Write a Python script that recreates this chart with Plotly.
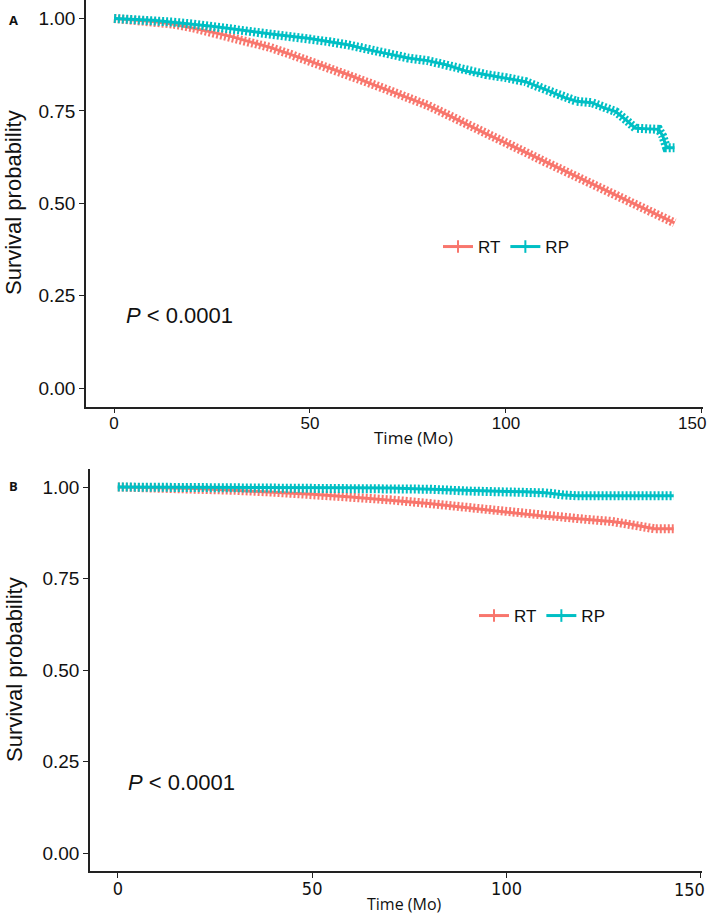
"""Kaplan-Meier style survival curves, RT vs RP, two stacked panels."""

import plotly.graph_objects as go

RT_COLOR = "#F8766D"
RP_COLOR = "#00BFC4"
AXIS_COLOR = "#222222"
TICK_FONT = "Liberation Sans, Arial, sans-serif"
TITLE_FONT = "Open Sans, Noto Sans, sans-serif"
NARROW_FONT = "Liberation Sans Narrow, DejaVu Sans Condensed, sans-serif"

# Panel A
A_RT_MONTHS = [0, 5, 10, 15, 20, 25, 30, 35, 40, 45, 50, 55, 60, 65, 70, 75,
               80, 85, 90, 95, 100, 105, 110, 115, 120, 125, 130, 135, 140, 143]
A_RT_SURV = [1.000, 0.997, 0.992, 0.985, 0.975, 0.963, 0.951, 0.937, 0.921,
             0.903, 0.885, 0.866, 0.847, 0.826, 0.806, 0.787, 0.765, 0.740,
             0.713, 0.688, 0.663, 0.638, 0.612, 0.588, 0.562, 0.537, 0.512,
             0.487, 0.462, 0.447]
A_RP_MONTHS = [0, 5, 10, 15, 20, 25, 30, 35, 40, 45, 50, 55, 60, 65, 70, 75,
               80, 85, 90, 95, 100, 105, 110, 115, 118, 122, 125, 128, 131,
               133, 139, 140, 141, 143]
A_RP_SURV = [1.000, 0.998, 0.995, 0.990, 0.985, 0.979, 0.972, 0.964, 0.958,
             0.952, 0.946, 0.937, 0.928, 0.915, 0.904, 0.893, 0.886, 0.874,
             0.857, 0.848, 0.840, 0.829, 0.808, 0.786, 0.776, 0.772, 0.758,
             0.748, 0.722, 0.703, 0.700, 0.682, 0.650, 0.650]

# Panel B
B_RT_MONTHS = [0, 10, 20, 30, 40, 50, 60, 70, 80, 90, 100, 110, 120, 127,
               131, 135, 138, 143]
B_RT_SURV = [1.000, 0.999, 0.996, 0.991, 0.986, 0.980, 0.973, 0.965, 0.955,
             0.943, 0.932, 0.920, 0.912, 0.906, 0.900, 0.892, 0.886, 0.886]
B_RP_MONTHS = [0, 20, 40, 60, 70, 80, 90, 100, 105, 110, 115, 118, 143]
B_RP_SURV = [1.000, 1.000, 0.999, 0.998, 0.997, 0.994, 0.989, 0.988, 0.987,
             0.984, 0.978, 0.976, 0.976]

GROUPS = ["RT", "RP"]
X_TICKS = [0, 50, 100, 150]
X_TICK_TEXT = ["0", "50", "100", "150"]
Y_TICKS = [0, 0.25, 0.5, 0.75, 1.0]
P_LABEL = "<i>P</i> < 0.0001"

W, H = 709, 914


def px_x(px):
    return px / W


def px_y(py):
    return 1 - py / H


def add_curve(fig, months, surv, color, xref, yref):
    """Curve line plus a thick dashed overlay mimicking dense censor ticks."""
    fig.add_trace(go.Scatter(
        x=months, y=surv, mode="lines", xaxis=xref, yaxis=yref,
        line={"color": color, "width": 3}, showlegend=False, hoverinfo="skip",
    ))
    fig.add_trace(go.Scatter(
        x=months, y=surv, mode="lines", xaxis=xref, yaxis=yref,
        line={"color": color, "width": 9, "dash": "2px,2px"},
        showlegend=False, hoverinfo="skip",
    ))


def add_legend_entries(fig, legend, xref, yref):
    for name, color in zip(GROUPS, [RT_COLOR, RP_COLOR]):
        fig.add_trace(go.Scatter(
            x=[None], y=[None], mode="lines+markers", name=name,
            xaxis=xref, yaxis=yref, legend=legend,
            line={"color": color, "width": 3},
            marker={"symbol": "line-ns-open", "size": 9,
                    "line": {"color": color, "width": 2}},
        ))


fig = go.Figure()
add_curve(fig, A_RT_MONTHS, A_RT_SURV, RT_COLOR, "x", "y")
add_curve(fig, A_RP_MONTHS, A_RP_SURV, RP_COLOR, "x", "y")
add_curve(fig, B_RT_MONTHS, B_RT_SURV, RT_COLOR, "x2", "y2")
add_curve(fig, B_RP_MONTHS, B_RP_SURV, RP_COLOR, "x2", "y2")
add_legend_entries(fig, "legend", "x", "y")
add_legend_entries(fig, "legend2", "x2", "y2")

axis_common = dict(
    showline=True, linecolor=AXIS_COLOR, linewidth=1.5,
    ticks="outside", ticklen=5, tickwidth=1.2, tickcolor=AXIS_COLOR,
    showgrid=False, zeroline=False, automargin=False,
)
# the last x label sits at the page edge, so it is drawn as a nudged annotation
x_common = dict(axis_common, range=[-7.15, 150.15], tickvals=X_TICKS,
                ticktext=X_TICK_TEXT[:-1] + [""], ticklabelstandoff=-5)
y_common = dict(axis_common, range=[-0.05, 1.05], tickvals=Y_TICKS,
                tickformat=".2f", tickfont={"family": TICK_FONT, "size": 19,
                                            "color": "#111"})
legend_common = dict(
    orientation="h", xanchor="left", yanchor="middle",
    bgcolor="rgba(0,0,0,0)", itemwidth=30,
    font={"family": TICK_FONT, "size": 17, "color": "#111"},
)

fig.update_layout(
    width=W, height=H,
    margin={"l": 0, "r": 0, "t": 0, "b": 0},
    paper_bgcolor="white", plot_bgcolor="white",
    xaxis=dict(x_common, domain=[px_x(86), px_x(702.5)], anchor="y",
               tickfont={"family": TICK_FONT, "size": 17, "color": "#111"}),
    yaxis=dict(y_common, domain=[px_y(406.5), px_y(0)], anchor="x"),
    xaxis2=dict(x_common, domain=[px_x(90), px_x(701.5)], anchor="y2",
                tickfont={"family": NARROW_FONT, "size": 18, "color": "#111"}),
    yaxis2=dict(y_common, domain=[px_y(871.3), px_y(468.7)], anchor="x2"),
    legend=dict(legend_common, x=px_x(438), y=px_y(247)),
    legend2=dict(legend_common, x=px_x(474), y=px_y(616)),
)

annotations = [
    # panel tags
    dict(text="<b>A</b>", x=px_x(13), y=px_y(20), font={"size": 13}),
    dict(text="<b>B</b>", x=px_x(13), y=px_y(486), font={"size": 13}),
    # y titles
    dict(text="Survival probability", x=px_x(14), y=px_y(203), textangle=-90,
         font={"family": TICK_FONT, "size": 22}),
    dict(text="Survival probability", x=px_x(14), y=px_y(670), textangle=-90,
         font={"family": TICK_FONT, "size": 22}),
    # x titles
    dict(text="Time (Mo)", x=px_x(413), y=px_y(437),
         font={"family": TITLE_FONT, "size": 17}),
    dict(text="Time (Mo)", x=px_x(404), y=px_y(904),
         font={"family": TITLE_FONT, "size": 16}),
    # p-values
    dict(text=P_LABEL, x=px_x(124), y=px_y(315), xanchor="left",
         font={"family": TICK_FONT, "size": 22}),
    dict(text=P_LABEL, x=px_x(126), y=px_y(782), xanchor="left",
         font={"family": TICK_FONT, "size": 22}),
]
for ann in annotations:
    ann.setdefault("xanchor", "center")
    ann.setdefault("yanchor", "middle")
    ann["font"].setdefault("color", "#111")
    fig.add_annotation(xref="paper", yref="paper", showarrow=False, **ann)

# last x tick label of each panel, pulled inside the page edge
for xref, y_px, family, size in [("x", 423, TICK_FONT, 17),
                                 ("x2", 889, NARROW_FONT, 18)]:
    fig.add_annotation(
        text=X_TICK_TEXT[-1], xref=xref, x=X_TICKS[-1], yref="paper",
        y=px_y(y_px), xanchor="right", yanchor="middle", xshift=6,
        showarrow=False, font={"family": family, "size": size, "color": "#111"},
    )

# the page would otherwise add the browser's default 8px body margin
fig.write_html(
    "out.html",
    config={"displayModeBar": False},
    post_script="document.body.style.margin = '0';",
)
